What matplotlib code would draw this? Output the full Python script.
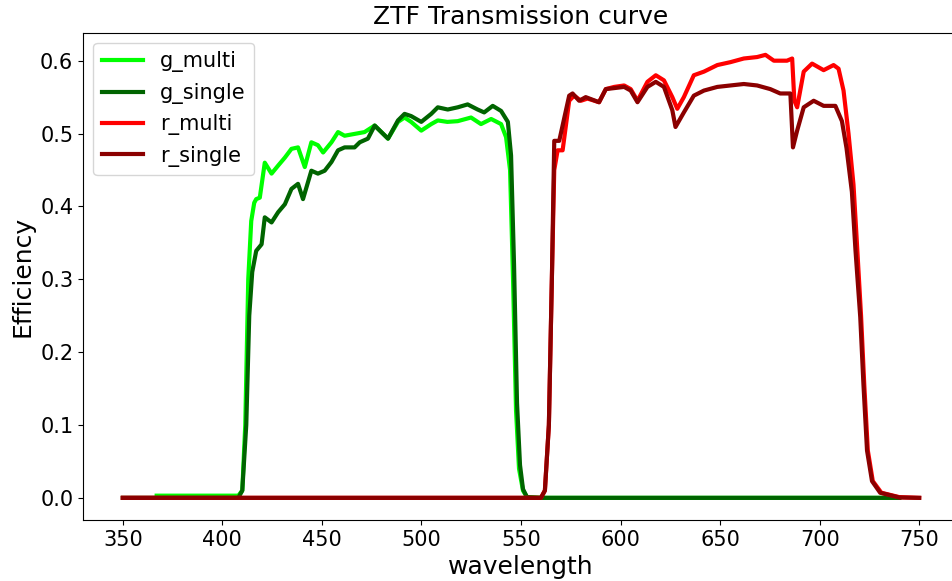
import matplotlib.pyplot as plt

# g band, multi-layer coating
g_multi_wl = [367, 408, 410, 411.5, 413, 414.5, 416, 417, 418.8, 421.3, 424.7, 428, 431.4,
              434.7, 438, 441.4, 444.7, 448, 450.6, 454.8, 458.1, 461.4, 466.4, 471.4,
              476.5, 483.2, 488.2, 491.5, 494.8, 499.9, 504.9, 508.2, 513, 518.2, 524.9,
              529.9, 535, 540, 542.5, 544.5, 546, 547.5, 549, 551, 553, 560, 740]
g_multi_eff = [0.003, 0.003, 0.01, 0.1, 0.3, 0.38, 0.405, 0.41, 0.412, 0.46, 0.445, 0.456,
               0.467, 0.479, 0.481, 0.454, 0.488, 0.484, 0.474, 0.488, 0.502, 0.497, 0.4995,
               0.502, 0.511, 0.493, 0.516, 0.522, 0.516, 0.504, 0.513, 0.518, 0.516, 0.517,
               0.522, 0.513, 0.52, 0.513, 0.495, 0.45, 0.3, 0.12, 0.04, 0.01, 0.001, 0.0, 0.0]

# g band, single-layer coating
g_single_wl = [350, 408, 410, 412, 413.5, 415, 417, 419.7, 421.3, 424.7, 428, 431.4, 434.7,
               438, 440.5, 444.7, 448, 451.4, 454.8, 458.1, 461.4, 466.4, 469, 473.1, 476.5,
               483.2, 488.2, 491.5, 494.8, 499.9, 504.9, 508.2, 513.2, 518.2, 523.2, 528.2,
               531.5, 535.8, 540, 543.4, 545, 546.5, 548, 549.5, 551, 553, 560, 740]
g_single_eff = [0.0, 0.0, 0.01, 0.1, 0.25, 0.31, 0.339, 0.348, 0.385, 0.378, 0.392, 0.403,
                0.424, 0.431, 0.41, 0.449, 0.445, 0.449, 0.461, 0.477, 0.481, 0.481, 0.488,
                0.493, 0.511, 0.493, 0.518, 0.527, 0.524, 0.516, 0.527, 0.536, 0.533, 0.536,
                0.54, 0.533, 0.529, 0.538, 0.531, 0.516, 0.47, 0.32, 0.13, 0.045, 0.012, 0.001,
                0.0, 0.0]

# r band, multi-layer coating
r_multi_wl = [350, 560, 562, 564, 565.5, 566.7, 568.4, 570.9, 574.2, 576.7, 580.1, 583.4,
              589.2, 592.6, 596.8, 601.8, 605.1, 608.5, 613.5, 617.7, 621.8, 626, 628.5,
              631.8, 636.8, 641.9, 648.6, 655.2, 661.9, 668.6, 672.8, 677, 683.6, 686.2,
              687.3, 688.7, 692, 696.2, 702, 707, 709.5, 712, 714.5, 717, 718.5, 720.8,
              722.4, 724.2, 726.7, 731, 740, 750]
r_multi_eff = [0.0, 0.0, 0.01, 0.1, 0.3, 0.45, 0.477, 0.477, 0.545, 0.552, 0.545, 0.548,
               0.543, 0.561, 0.564, 0.566, 0.561, 0.545, 0.571, 0.58, 0.573, 0.55, 0.534,
               0.55, 0.58, 0.585, 0.594, 0.598, 0.603, 0.605, 0.608, 0.6, 0.6, 0.603,
               0.545, 0.536, 0.585, 0.596, 0.587, 0.594, 0.589, 0.559, 0.5, 0.43, 0.36, 0.25,
               0.156, 0.065, 0.023, 0.007, 0.001, 0.0]

# r band, single-layer coating
r_single_wl = [350, 560, 562, 564, 565.5, 566.7, 569.2, 574.2, 575.9, 579.2, 582.5, 589.2,
               592.6, 601.8, 605.1, 608.5, 613.5, 617.7, 621.8, 626, 627.6, 631.8, 636.8,
               641.9, 648.6, 655.2, 661.9, 668.6, 675.2, 680.2, 685.3, 686.6, 688.7, 692,
               697, 702, 707.9, 711.2, 713.5, 716.2, 718, 720.4, 722, 723.8, 726.3, 730.4,
               740, 750]
r_single_eff = [0.0, 0.0, 0.01, 0.1, 0.3, 0.49, 0.49, 0.552, 0.555, 0.545, 0.55, 0.543,
                0.561, 0.564, 0.559, 0.543, 0.564, 0.571, 0.564, 0.532, 0.509, 0.529, 0.552,
                0.559, 0.564, 0.566, 0.568, 0.566, 0.561, 0.555, 0.555, 0.481, 0.504, 0.536,
                0.545, 0.538, 0.538, 0.517, 0.48, 0.42, 0.34, 0.248, 0.156, 0.065, 0.023,
                0.007, 0.0005, 0.0]

fig = plt.figure(figsize=(9.53, 5.81), dpi=100)
ax = fig.add_axes([0.0871, 0.105, 0.9192, 0.8387])

ax.plot(g_multi_wl, g_multi_eff, color='lime', lw=3, label='g_multi')
ax.plot(g_single_wl, g_single_eff, color='darkgreen', lw=3, label='g_single')
ax.plot(r_multi_wl, r_multi_eff, color='red', lw=3, label='r_multi')
ax.plot(r_single_wl, r_single_eff, color='darkred', lw=3, label='r_single')

ax.set_title('ZTF Transmission curve', fontsize=18)
ax.set_xlabel('wavelength', fontsize=18)
ax.set_ylabel('Efficiency', fontsize=18)
ax.tick_params(labelsize=15)
ax.legend(loc='upper left', fontsize=15)

fig.savefig('out.png', dpi=100)
